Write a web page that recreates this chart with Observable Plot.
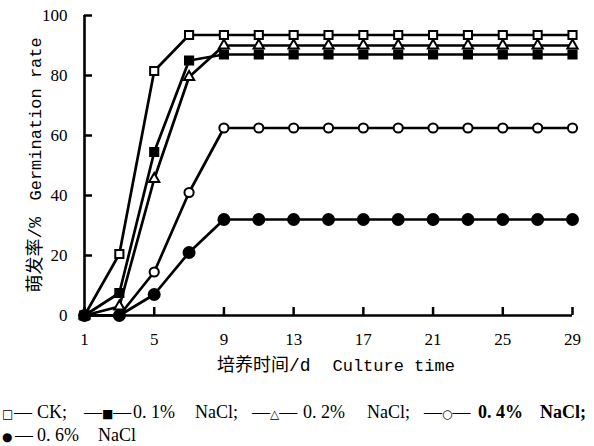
<!DOCTYPE html>
<html><head><meta charset="utf-8">
<script src="https://cdn.jsdelivr.net/npm/d3@7"></script>
<script src="https://cdn.jsdelivr.net/npm/@observablehq/plot@0.6"></script>
<style>
body{margin:0;background:#fff;width:594px;height:446px;overflow:hidden;position:relative;}
#legend > span{position:absolute;font-family:"Liberation Serif","Noto Sans CJK SC",serif;font-size:18px;color:#000;line-height:16px;white-space:nowrap;}
#legend span.m{font-family:"DejaVu Sans",sans-serif;font-size:12px;}
#legend .b{font-weight:bold;}
</style></head>
<body>
<div id="chart"></div>
<div id="legend"></div>
<script>
const days = [1,3,5,7,9,11,13,15,17,19,21,23,25,27,29];
const ck   = [0,20.5,81.5,93.5,93.5,93.5,93.5,93.5,93.5,93.5,93.5,93.5,93.5,93.5,93.5];
const n01  = [0,7.5,54.5,85,87,87,87,87,87,87,87,87,87,87,87];
const n02  = [0,3,45.5,79.5,90,90,90,90,90,90,90,90,90,90,90];
const n04  = [0,0,14.5,41,62.5,62.5,62.5,62.5,62.5,62.5,62.5,62.5,62.5,62.5,62.5];
const n06  = [0,0,7,21,32,32,32,32,32,32,32,32,32,32,32];
const xTicks = [1,5,9,13,17,21,25,29];
const yTicks = [0,20,40,60,80,100];
const seriesNames = ["CK","0.1% NaCl","0.2% NaCl","0.4% NaCl","0.6% NaCl"];

const series = [
  {name:seriesNames[0], vals:ck,  symbol:"square",   fill:"white", r:4.6},
  {name:seriesNames[1], vals:n01, symbol:"square",   fill:"black", r:4.6},
  {name:seriesNames[2], vals:n02, symbol:"triangle", fill:"white", r:3.8},
  {name:seriesNames[3], vals:n04, symbol:"circle",   fill:"white", r:4.6},
  {name:seriesNames[4], vals:n06, symbol:"circle",   fill:"black", r:5.5}
];
const data = series.flatMap(s => days.map((d,i)=>({day:d, v:s.vals[i], s:s.name})));

const marks = [];
for (const s of series) {
  marks.push(Plot.line(data.filter(r=>r.s===s.name), {x:"day", y:"v", stroke:"black", strokeWidth:2.7}));
}
for (const s of series) {
  marks.push(Plot.dot(data.filter(r=>r.s===s.name), {x:"day", y:"v", symbol:s.symbol, fill:s.fill, stroke:"black", strokeWidth:2, r:s.r}));
}

const cjkMono = "Liberation Mono, Noto Sans CJK SC, monospace";
const chart = Plot.plot({
  width:594, height:388,
  marginLeft:84, marginRight:22, marginTop:15, marginBottom:73,
  style:{fontFamily:"Liberation Serif, serif", fontSize:"17px", color:"black", background:"white", overflow:"visible"},
  x:{domain:[1,29], ticks:xTicks, label:null},
  y:{domain:[0,100], ticks:yTicks, label:null},
  marks:[
    Plot.ruleY([0], {stroke:"black", strokeWidth:2.6}),
    Plot.ruleX([1], {stroke:"black", strokeWidth:2.6}),
    Plot.axisX({ticks:xTicks, tickSize:-8, tickPadding:25, strokeWidth:2.5, fontSize:17}),
    Plot.axisY({ticks:yTicks, tickSize:-8, tickPadding:25, strokeWidth:2.5, fontSize:17}),
    ...marks,
    Plot.text(["培养时间/d"], {frameAnchor:"bottom", dy:55, dx:-18, textAnchor:"end", fontSize:18, fontFamily:cjkMono}),
    Plot.text(["Culture time"], {frameAnchor:"bottom", dy:55, dx:4, textAnchor:"start", fontSize:17, fontFamily:cjkMono}),
    Plot.text(["萌发率/%"], {frameAnchor:"left", dx:-49, dy:127, rotate:-90, textAnchor:"start", fontSize:18, fontFamily:cjkMono}),
    Plot.text(["Germination rate"], {frameAnchor:"left", dx:-49, dy:35, rotate:-90, textAnchor:"start", fontSize:17, fontFamily:cjkMono})
  ]
});
document.getElementById("chart").appendChild(chart);

// legend (HTML, below the SVG)
const M = s => `<span class="m">${s}</span>`;
const L1 = 404, L2 = 427;
const legendItems = [
  {h:M("□"), x:2, y:L1}, {h:"—", x:14, y:L1}, {h:"CK;", x:37, y:L1},
  {h:"—"+M("■")+"—", x:84, y:L1}, {h:"0. 1%", x:133, y:L1}, {h:"NaCl;", x:195, y:L1},
  {h:"—"+M("△")+"—", x:252, y:L1}, {h:"0. 2%", x:303, y:L1}, {h:"NaCl;", x:367, y:L1},
  {h:"—"+M("○")+"—", x:424, y:L1}, {h:"0. 4%", x:478, y:L1, b:true}, {h:"NaCl;", x:540, y:L1, b:true},
  {h:M("●"), x:2, y:L2}, {h:"—", x:15, y:L2}, {h:"0. 6%", x:37, y:L2}, {h:"NaCl", x:98, y:L2}
];
const leg = document.getElementById("legend");
for (const it of legendItems) {
  const s = document.createElement("span");
  s.innerHTML = it.h;
  if (it.b) s.className = "b";
  s.style.left = it.x + "px";
  s.style.top = it.y + "px";
  leg.appendChild(s);
}
</script>
</body></html>
